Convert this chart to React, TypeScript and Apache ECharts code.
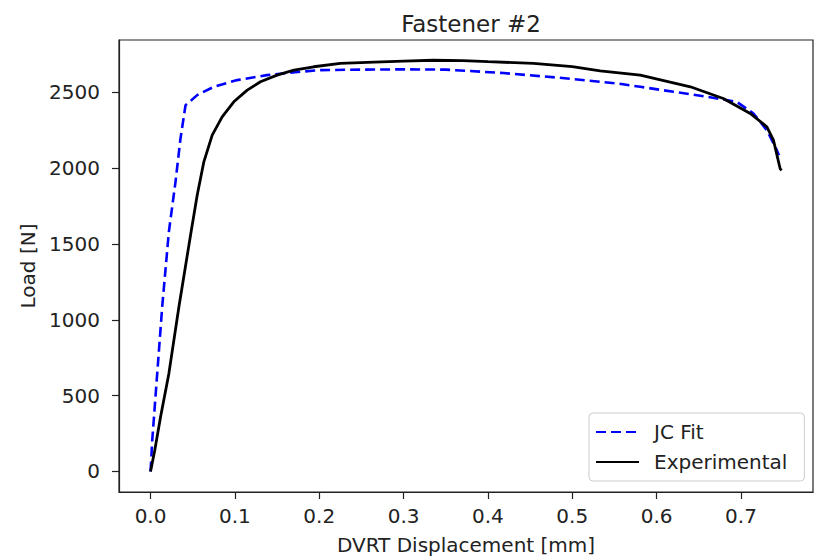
import React, { useEffect, useRef } from "react";
import * as echarts from "echarts";

// JC Fit (blue dashed)
const jcX = [0, 0.002, 0.0079, 0.0138, 0.0217, 0.0296, 0.0355, 0.0415, 0.0553, 0.075, 0.1027, 0.138, 0.178, 0.2, 0.25, 0.3, 0.35, 0.415, 0.494, 0.553, 0.5806, 0.62, 0.6596, 0.695, 0.7148, 0.7307, 0.7425, 0.745];
const jcY = [0, 205, 645, 1085, 1580, 1910, 2196, 2416, 2482, 2537, 2581, 2614, 2636, 2647, 2650, 2652, 2650, 2629, 2592, 2559, 2537, 2504, 2471, 2438, 2361, 2251, 2119, 2085];

// Experimental (black solid)
const expX = [0, 0.005, 0.0118, 0.0217, 0.0336, 0.0474, 0.0553, 0.0632, 0.0731, 0.0849, 0.0987, 0.1146, 0.1303, 0.15, 0.17, 0.1935, 0.225, 0.257, 0.3, 0.335, 0.37, 0.4, 0.454, 0.5, 0.533, 0.5806, 0.64, 0.679, 0.711, 0.7307, 0.7385, 0.7464, 0.748];
const expY = [0, 140, 358, 645, 1085, 1558, 1822, 2042, 2218, 2339, 2438, 2515, 2570, 2614, 2647, 2669, 2691, 2698, 2706, 2712, 2710, 2703, 2691, 2670, 2642, 2614, 2537, 2460, 2361, 2273, 2185, 1998, 1985];

const xTicks = [0, 0.1, 0.2, 0.3, 0.4, 0.5, 0.6, 0.7];
const yTicks = [0, 500, 1000, 1500, 2000, 2500];

const X_MIN = -0.0374;
const X_MAX = 0.7854;
const Y_MIN = -135.5;
const Y_MAX = 2845.5;

const TXT = "#222";
const FONT = "DejaVu Sans";

export default function App() {
  const ref = useRef<HTMLDivElement>(null);
  useEffect(() => {
    if (!ref.current) return;
    const chart = echarts.init(ref.current, null, { renderer: "svg" });
    const axisLineStyle = { color: "#222", width: 1.2 };
    chart.setOption({
      animation: false,
      backgroundColor: "#fff",
      textStyle: { fontFamily: FONT },
      title: {
        text: "Fastener #2",
        left: 466,
        top: 7,
        textAlign: "center",
        textStyle: { fontFamily: FONT, fontSize: 23, fontWeight: "normal", color: TXT },
      },
      grid: {
        left: 119,
        right: 2,
        top: 40,
        bottom: 68,
        show: true,
        borderColor: "#222",
        borderWidth: 1.2,
        backgroundColor: "#fff",
      },
      legend: {
        orient: "vertical",
        left: 589,
        top: 413,
        padding: [9, 17, 9, 6],
        itemWidth: 43,
        itemHeight: 14,
        itemGap: 10,
        borderColor: "#ccc",
        borderWidth: 1,
        borderRadius: 4,
        backgroundColor: "rgba(255,255,255,0.8)",
        itemStyle: { opacity: 0 },
        textStyle: { fontFamily: FONT, fontSize: 20, color: TXT, padding: [0, 0, 0, 10] },
        data: ["JC Fit", "Experimental"],
      },
      xAxis: {
        type: "value",
        min: X_MIN,
        max: X_MAX,
        name: "DVRT Displacement [mm]",
        nameLocation: "middle",
        nameGap: 43,
        nameTextStyle: { fontFamily: FONT, fontSize: 20, color: TXT },
        axisLine: { show: true, onZero: false, lineStyle: axisLineStyle },
        axisTick: { show: true, length: 7, inside: false, customValues: xTicks, lineStyle: axisLineStyle },
        axisLabel: {
          customValues: xTicks,
          formatter: (v: number) => v.toFixed(1),
          fontFamily: FONT,
          fontSize: 20,
          color: TXT,
          margin: 14,
        },
        splitLine: { show: false },
      },
      yAxis: {
        type: "value",
        min: Y_MIN,
        max: Y_MAX,
        name: "Load [N]",
        nameLocation: "middle",
        nameRotate: 90,
        nameGap: 80,
        nameTextStyle: { fontFamily: FONT, fontSize: 20, color: TXT },
        axisLine: { show: true, onZero: false, lineStyle: axisLineStyle },
        axisTick: { show: true, length: 7, inside: false, customValues: yTicks, lineStyle: axisLineStyle },
        axisLabel: {
          customValues: yTicks,
          formatter: (v: number) => String(v),
          fontFamily: FONT,
          fontSize: 20,
          color: TXT,
          margin: 19,
        },
        splitLine: { show: false },
      },
      series: [
        {
          name: "JC Fit",
          type: "line",
          data: jcX.map((x, i) => [x, jcY[i]]),
          showSymbol: false,
          symbol: "none",
          color: "#0000ff",
          lineStyle: { color: "#0000ff", width: 2.6, type: [10, 5] },
          z: 2,
        },
        {
          name: "Experimental",
          type: "line",
          data: expX.map((x, i) => [x, expY[i]]),
          showSymbol: false,
          symbol: "none",
          color: "#000",
          lineStyle: { color: "#000", width: 2.8 },
          z: 3,
        },
      ],
    });
    return () => chart.dispose();
  }, []);
  return <div ref={ref} style={{ position: "absolute", left: 0, top: 0, width: 815, height: 560 }} />;
}
